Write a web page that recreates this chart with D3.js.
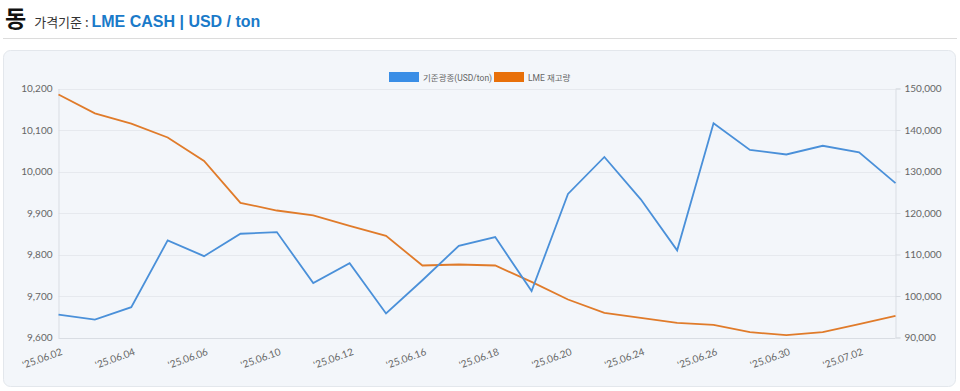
<!DOCTYPE html>
<html>
<head>
<meta charset="utf-8">
<script src="https://cdn.jsdelivr.net/npm/d3@7"></script>
<style>
  body { margin: 0; background: #fff; font-family: "Noto Sans CJK KR", "Noto Sans", sans-serif; }
  svg { display: block; }
</style>
</head>
<body>
<div id="app"></div>
<script>
// data
const dates = ["25.06.02","25.06.03","25.06.04","25.06.05","25.06.06","25.06.09","25.06.10","25.06.11",
  "25.06.12","25.06.13","25.06.16","25.06.17","25.06.18","25.06.19","25.06.20","25.06.23",
  "25.06.24","25.06.25","25.06.26","25.06.27","25.06.30","25.07.01","25.07.02","25.07.03"]
const price = [9655, 9643, 9673, 9834, 9796, 9850, 9854, 9731, 9779, 9658, 9738, 9821,
  9842, 9712, 9946, 10035, 9933, 9810, 10116, 10052, 10041, 10062, 10046, 9972]
const stock = [148550, 144000, 141550, 138200, 132550, 122450, 120600, 119450, 116900, 114480, 107350, 107590,
  107350, 103400, 99160, 95930, 94720, 93520, 93040, 91280, 90550, 91280, 93200, 95200]
const leftTicks = [9600, 9700, 9800, 9900, 10000, 10100, 10200]
const rightTicks = [90000, 100000, 110000, 120000, 130000, 140000, 150000]
const seriesNames = ["기준광종(USD/ton)", "LME 재고량"]

const W = 960, H = 391
const blue = "#4a90d9", orange = "#e07b2a"
const fmt = d3.format(",")

const svg = d3.select('#app').append('svg').attr('width', W).attr('height', H)

// header
const head = svg.append('text').attr('x', 5).attr('y', 27)
head.append('tspan').text('동').attr('font-size', 23).attr('font-weight', 700).attr('fill', '#111')
head.append('tspan').text('가격기준 : ').attr('dx', 8).attr('font-size', 13).attr('fill', '#333')
head.append('tspan').text('LME CASH | USD / ton').attr('font-size', 16).attr('font-weight', 700)
  .attr('fill', '#1a7ac9').attr('font-family', 'Liberation Sans, Arial, sans-serif')
svg.append('line').attr('x1', 3).attr('x2', 957).attr('y1', 38.5).attr('y2', 38.5).attr('stroke', '#dcdcdc')

// card
svg.append('rect').attr('x', 3.5).attr('y', 50.5).attr('width', 952).attr('height', 336).attr('rx', 7)
  .attr('fill', '#f3f6fa').attr('stroke', '#e3e7ec')

const plotL = 58.5, plotR = 895.5, plotT = 88.5, plotB = 337.5
const x = d3.scalePoint().domain(dates).range([plotL, plotR])
const yL = d3.scaleLinear().domain([9600, 10200]).range([plotB, plotT])
const yR = d3.scaleLinear().domain([90000, 150000]).range([plotB, plotT])

// grid
svg.append('g').selectAll('line').data(leftTicks).join('line')
  .attr('x1', plotL).attr('x2', plotR)
  .attr('y1', d => Math.round(yL(d)) + 0.5).attr('y2', d => Math.round(yL(d)) + 0.5)
  .attr('stroke', d => d === 9600 ? '#d9dde3' : '#e6e9ee')

// axes
const axL = svg.append('g').attr('transform', `translate(${plotL},0)`)
  .call(d3.axisLeft(yL).tickValues(leftTicks).tickFormat(fmt).tickSize(0).tickPadding(6))
const axR = svg.append('g').attr('transform', `translate(${plotR},0)`)
  .call(d3.axisRight(yR).tickValues(rightTicks).tickFormat(fmt).tickSize(5).tickPadding(4))
const axB = svg.append('g').attr('transform', `translate(0,${plotB})`)
  .call(d3.axisBottom(x).tickValues(dates.filter((d, i) => i % 2 === 0)).tickSize(0).tickFormat(d => "'" + d))
for (const ax of [axL, axR, axB]) {
  ax.select('.domain').attr('stroke', '#d9dde3')
  ax.selectAll('.tick line').attr('stroke', '#d9dde3')
  ax.selectAll('text').attr('fill', '#666').attr('font-size', 10)
    .attr('font-family', 'Lato, "Noto Sans", sans-serif')
}
axB.select('.domain').remove()
axB.selectAll('.tick text')
  .attr('text-anchor', 'end').attr('dy', 0).attr('y', 0)
  .attr('transform', 'translate(4,17) rotate(-20)')

// lines
const lineL = d3.line().x((d, i) => x(dates[i])).y(d => yL(d))
const lineR = d3.line().x((d, i) => x(dates[i])).y(d => yR(d))
svg.append('path').attr('d', lineR(stock)).attr('fill', 'none').attr('stroke', orange).attr('stroke-width', 1.8)
svg.append('path').attr('d', lineL(price)).attr('fill', 'none').attr('stroke', blue).attr('stroke-width', 1.8)

// legend
const legend = svg.append('g').attr('font-size', 8.5).attr('fill', '#666')
  .attr('font-family', 'Roboto, "Noto Sans CJK KR", sans-serif')
const lg = [{ name: seriesNames[0], color: '#3a8ee6', x: 389 }, { name: seriesNames[1], color: '#e8700a', x: 494 }]
lg.forEach(d => {
  legend.append('rect').attr('x', d.x).attr('y', 72).attr('width', 30).attr('height', 10).attr('fill', d.color)
  legend.append('text').attr('x', d.x + 34).attr('y', 80.5).text(d.name)
})
</script>
</body>
</html>
